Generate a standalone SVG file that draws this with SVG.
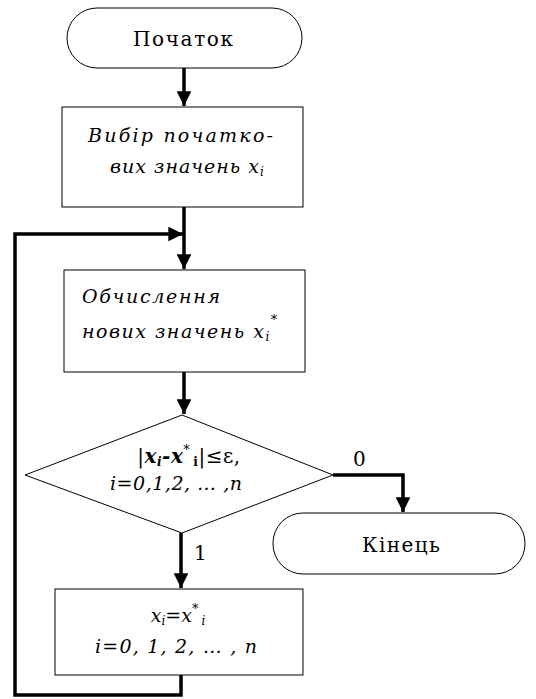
<svg xmlns="http://www.w3.org/2000/svg" width="536" height="699" viewBox="0 0 536 699">
<defs>
<marker id="ah" viewBox="0 0 10 10" refX="10" refY="5" markerWidth="4.2" markerHeight="4.2" orient="auto" markerUnits="strokeWidth">
<path d="M0,0 L10,5 L0,10 z" fill="#000"/>
</marker>
<style>
.shape{fill:#fff;stroke:#000;stroke-width:1}
.conn{fill:none;stroke:#000;stroke-width:3.5}
.t{font-family:'DejaVu Serif',serif;font-size:20px;fill:#000}
.it{font-family:'DejaVu Serif',serif;font-size:19px;font-style:italic;fill:#000}
</style>
</defs>
<rect width="536" height="699" fill="#fff"/>
<g id="connectors">
<path class="conn" d="M184,68 V106" marker-end="url(#ah)"/>
<path class="conn" d="M184,207 V269" marker-end="url(#ah)"/>
<path class="conn" d="M184,372 V414" marker-end="url(#ah)"/>
<path class="conn" d="M333,475 H403 V512" marker-end="url(#ah)"/>
<path class="conn" d="M181,533 V588" marker-end="url(#ah)"/>
<path class="conn" d="M181,675 V695 H15 V234 H183" marker-end="url(#ah)"/>
<text class="t" x="353" y="466" font-size="19">0</text>
<text class="t" x="194" y="560" font-size="19">1</text>
</g>
<g id="start">
<rect class="shape" x="67" y="8" width="235" height="60" rx="30" ry="30"/>
<text class="t" x="133" y="46" textLength="100" lengthAdjust="spacing">Початок</text>
</g>
<g id="init">
<rect class="shape" x="62" y="107" width="241" height="100"/>
<text class="it" x="88" y="142" textLength="185" lengthAdjust="spacing">Вибір початко-</text>
<text class="it" x="110" y="173" letter-spacing="1">вих значень <tspan>x</tspan><tspan font-size="12" dy="3">i</tspan></text>
</g>
<g id="compute">
<rect class="shape" x="64" y="270" width="241" height="102"/>
<text class="it" x="82" y="303" textLength="138" lengthAdjust="spacing">Обчислення</text>
<text class="it" x="82" y="338" letter-spacing="1.5">нових значень x<tspan font-size="12" dy="3">i</tspan><tspan font-size="13" dy="-17">*</tspan></text>
</g>
<g id="check">
<polygon class="shape" points="182,415 333,475 182,533 25,475"/>
<text class="t" x="189" y="463" text-anchor="middle" font-size="18" letter-spacing="0.5">|<tspan font-weight="bold" font-style="italic">x</tspan><tspan font-weight="bold" font-style="italic" font-size="12" dy="3">i</tspan><tspan font-weight="bold" font-style="italic" dy="-3">-x</tspan><tspan font-size="13" dy="-9">*</tspan><tspan font-weight="bold" font-size="12" dx="3" dy="12">i</tspan><tspan dy="-3">|≤ε,</tspan></text>
<text class="it" x="110" y="490" textLength="132" lengthAdjust="spacing">i=0,1,2, … ,n</text>
</g>
<g id="end">
<rect class="shape" x="273" y="513" width="252" height="61" rx="30" ry="30"/>
<text class="t" x="362" y="552" textLength="78" lengthAdjust="spacing">Кінець</text>
</g>
<g id="assign">
<rect class="shape" x="55" y="589" width="248" height="86"/>
<text class="it" x="178" y="622" text-anchor="middle" font-size="18">x<tspan font-size="12" dy="3">i</tspan><tspan dy="-3">=x</tspan><tspan font-size="13" dy="-9">*</tspan><tspan font-size="12" dx="3" dy="12">i</tspan></text>
<text class="it" x="95" y="653" textLength="162" lengthAdjust="spacing">i=0, 1, 2, … , n</text>
</g>
</svg>
